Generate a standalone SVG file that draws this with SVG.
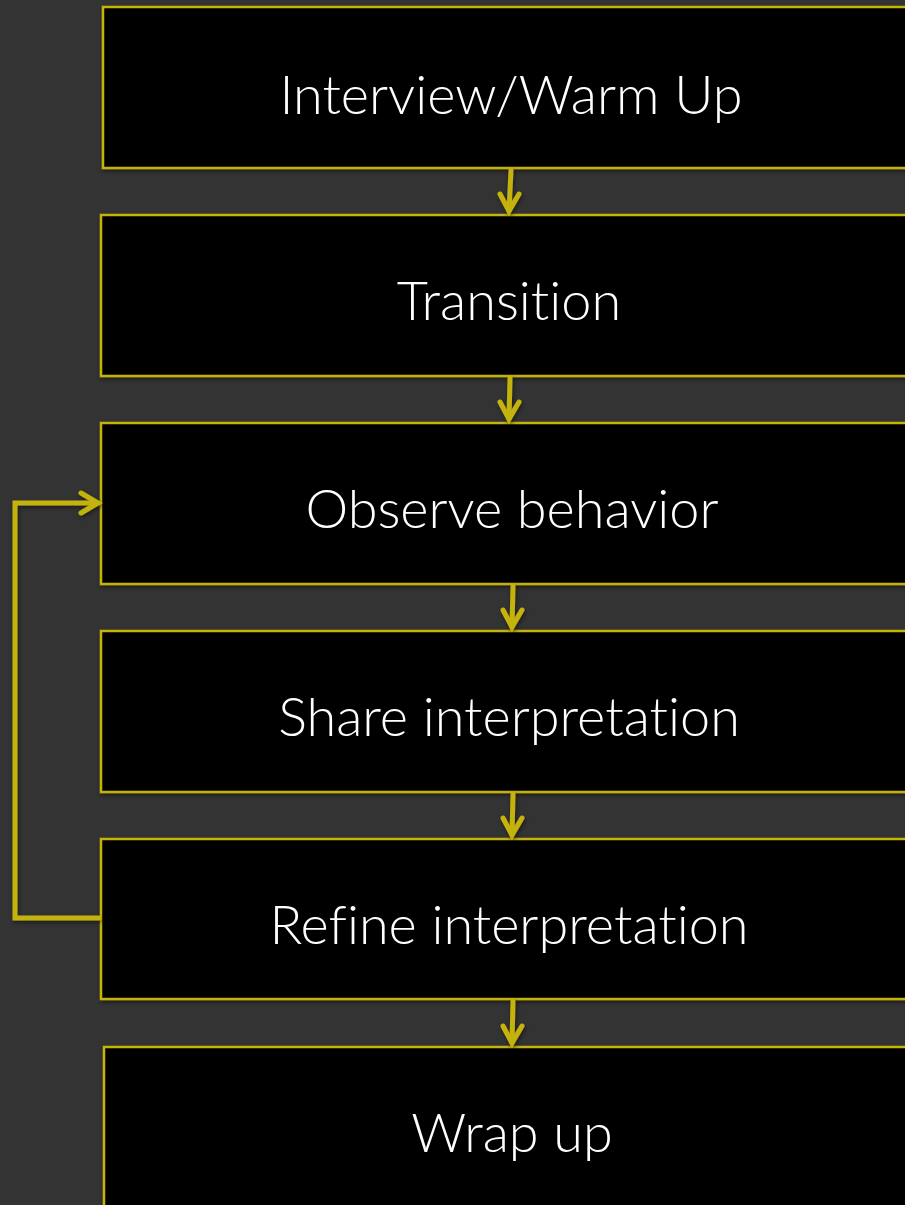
<svg xmlns="http://www.w3.org/2000/svg" width="905" height="1205" viewBox="0 0 905 1205">
<defs>
<style>
.box{fill:#000;stroke:#c4b20f;stroke-width:2.5}
.lbl{font-family:Lato,"Open Sans",sans-serif;font-weight:300;font-size:54px;fill:#fff;text-anchor:middle;font-variant-ligatures:none}
.con{fill:none;stroke:#c4b20f;stroke-width:5;stroke-linecap:round;stroke-linejoin:miter}
.head{fill:none;stroke:#c4b20f;stroke-width:5;stroke-linecap:round;stroke-linejoin:miter}
</style>
<filter id="sh" x="-5%" y="-5%" width="110%" height="115%">
<feDropShadow dx="1" dy="2" stdDeviation="2" flood-color="#000" flood-opacity="0.5"/>
</filter>
</defs>
<rect width="905" height="1205" fill="#333333"/>
<g id="n1"><rect class="box" x="103" y="7" width="810" height="161" filter="url(#sh)"/><text class="lbl" x="511" y="114">Interview/Warm Up</text></g>
<g id="n2"><rect class="box" x="101" y="215" width="812" height="161" filter="url(#sh)"/><text class="lbl" x="509" y="320">Transition</text></g>
<g id="n3"><rect class="box" x="101" y="423" width="812" height="161" filter="url(#sh)"/><text class="lbl" x="512" y="528">Observe behavior</text></g>
<g id="n4"><rect class="box" x="101" y="631" width="812" height="161" filter="url(#sh)"/><text class="lbl" x="509" y="736">Share interpretation</text></g>
<g id="n5"><rect class="box" x="101" y="839" width="812" height="160" filter="url(#sh)"/><text class="lbl" x="509" y="944">Refine interpretation</text></g>
<g id="n6"><rect class="box" x="104" y="1047" width="812" height="170" filter="url(#sh)"/><text class="lbl" x="512" y="1152">Wrap up</text></g>
<g id="connectors" filter="url(#sh)">
<path class="con" d="M511 170 L509 211"/><path class="head" d="M500 194 L509 211 L519 194"/>
<path class="con" d="M510 378 L509 419"/><path class="head" d="M500 402 L509 419 L519 402"/>
<path class="con" d="M513 586 L512 627"/><path class="head" d="M503 610 L512 627 L522 610"/>
<path class="con" d="M513 794 L512 835"/><path class="head" d="M503 818 L512 835 L522 818"/>
<path class="con" d="M513 1001 L512 1043"/><path class="head" d="M503 1026 L512 1043 L522 1026"/>
<path class="con" d="M99 918 L15 918 L15 503 L98 503" stroke-linecap="butt"/><path class="head" d="M81 493 L98 503 L81 513"/>
</g>
</svg>
